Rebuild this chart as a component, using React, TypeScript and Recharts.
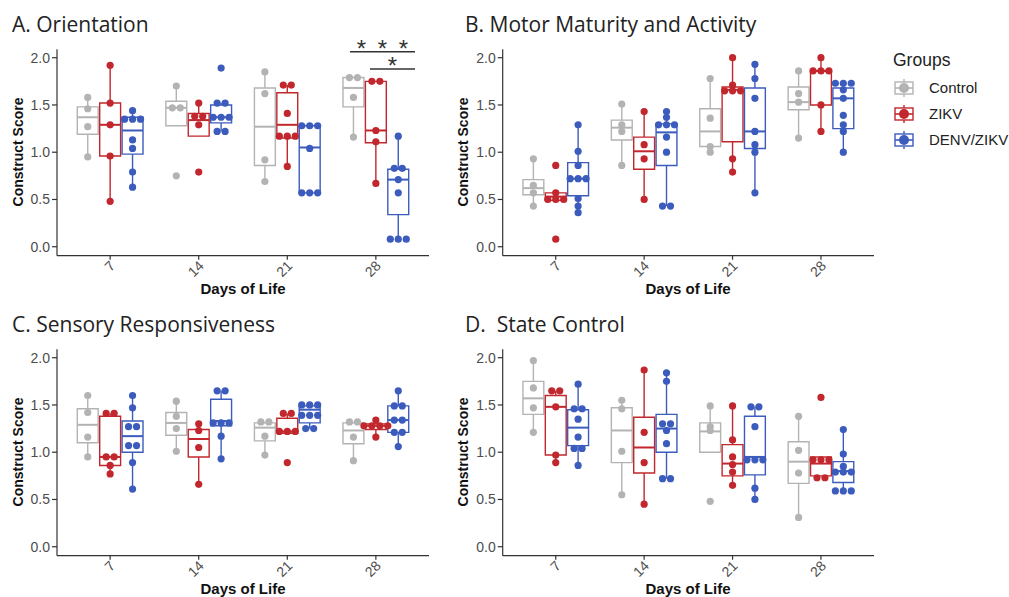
import React from 'react';
import { ComposedChart, XAxis, YAxis, Scatter, ReferenceArea, ReferenceLine } from 'recharts';

// x positions 1..4 map to these days
const days = ['7', '14', '21', '28'];
const groups = ['Control', 'ZIKV', 'DENV/ZIKV'];
const groupColors = ['#b3b3b3', '#c1272d', '#3c5cbd'];
const yTicks = [0, 0.5, 1, 1.5, 2];

// individual scores, one list per day (7, 14, 21, 28)
const orientControl = [[1.58, 1.46, 1.27, 0.95], [1.70, 1.47, 1.47, 0.75], [1.85, 1.62, 0.92, 0.69], [1.79, 1.79, 1.58, 1.16]];
const orientZikv = [[1.92, 1.52, 1.29, 0.96, 0.48], [1.52, 1.38, 1.38, 1.29, 0.79], [1.71, 1.71, 1.41, 1.17, 1.17, 1.17, 0.85], [1.75, 1.75, 1.23, 1.11, 0.67]];
const orientDenv = [[1.44, 1.35, 1.35, 1.35, 1.13, 1.04, 0.79, 0.63], [1.89, 1.52, 1.52, 1.37, 1.37, 1.37, 1.22, 1.22], [1.28, 1.28, 1.28, 1.04, 0.57, 0.57, 0.57], [1.17, 0.83, 0.83, 0.71, 0.57, 0.08, 0.08, 0.08]];

const motorControl = [[0.93, 0.65, 0.57, 0.43], [1.51, 1.29, 1.22, 0.86], [1.78, 1.36, 1.06, 1.00], [1.86, 1.62, 1.53, 1.15]];
const motorZikv = [[0.86, 0.57, 0.50, 0.50, 0.50, 0.08], [1.43, 1.08, 0.93, 0.50], [2.00, 1.71, 1.65, 1.65, 1.65, 0.93, 0.79], [2.00, 1.86, 1.86, 1.86, 1.50, 1.22]];
const motorDenv = [[1.29, 1.01, 0.86, 0.72, 0.72, 0.72, 0.51, 0.43, 0.36], [1.43, 1.37, 1.29, 1.29, 1.29, 1.16, 1.00, 0.43, 0.43], [1.93, 1.78, 1.57, 1.22, 1.08, 1.00, 0.57], [1.73, 1.73, 1.73, 1.66, 1.57, 1.39, 1.29, 1.22, 1.00]];

const sensoryControl = [[1.60, 1.42, 1.16, 0.95], [1.54, 1.38, 1.25, 1.01], [1.32, 1.32, 1.17, 0.97], [1.32, 1.32, 1.16, 0.91]];
const sensoryZikv = [[1.41, 1.41, 0.95, 0.95, 0.86, 0.77], [1.30, 1.23, 1.05, 0.66], [1.41, 1.41, 1.22, 1.22, 1.22, 0.89], [1.34, 1.28, 1.28, 1.28, 1.28, 1.16]];
const sensoryDenv = [[1.60, 1.47, 1.27, 1.27, 1.07, 1.07, 0.89, 0.61], [1.65, 1.65, 1.31, 1.31, 1.31, 1.17, 0.93], [1.50, 1.50, 1.50, 1.39, 1.39, 1.39, 1.25, 1.25], [1.65, 1.49, 1.49, 1.34, 1.34, 1.21, 1.21, 1.06]];

const stateControl = [[1.97, 1.68, 1.47, 1.21], [1.55, 1.46, 1.01, 0.55], [1.49, 1.27, 1.23, 0.48], [1.38, 1.02, 0.78, 0.31]];
const stateZikv = [[1.65, 1.65, 1.48, 0.97, 0.89], [1.87, 1.21, 0.89, 0.45], [1.49, 1.13, 0.95, 0.87, 0.79, 0.65], [1.58, 0.92, 0.92, 0.92, 0.73, 0.73]];
const stateDenv = [[1.72, 1.46, 1.46, 1.35, 1.16, 1.04, 1.04, 0.86], [1.84, 1.75, 1.30, 1.30, 1.23, 1.09, 0.72, 0.72], [1.48, 1.48, 1.27, 0.92, 0.92, 0.92, 0.62, 0.50], [1.24, 0.98, 0.85, 0.79, 0.79, 0.79, 0.59, 0.59, 0.59]];

// box stats per day: [lower whisker, q1, median, q3, upper whisker]
const orientControlBox = [[0.95, 1.19, 1.37, 1.48, 1.58], [1.28, 1.28, 1.47, 1.54, 1.70], [0.69, 0.86, 1.27, 1.68, 1.85], [1.16, 1.48, 1.68, 1.79, 1.79]];
const orientZikvBox = [[0.48, 0.96, 1.29, 1.52, 1.92], [1.17, 1.17, 1.34, 1.41, 1.52], [0.85, 1.15, 1.29, 1.63, 1.71], [0.67, 1.10, 1.23, 1.75, 1.75]];
const orientDenvBox = [[0.63, 0.98, 1.23, 1.37, 1.44], [1.22, 1.31, 1.37, 1.50, 1.52], [0.57, 0.57, 1.05, 1.28, 1.28], [0.08, 0.34, 0.71, 0.82, 1.17]];

const motorControlBox = [[0.43, 0.55, 0.62, 0.71, 0.93], [0.86, 1.13, 1.26, 1.34, 1.51], [1.00, 1.06, 1.22, 1.46, 1.78], [1.15, 1.45, 1.53, 1.69, 1.86]];
const motorZikvBox = [[0.49, 0.49, 0.53, 0.57, 0.57], [0.50, 0.82, 1.01, 1.16, 1.43], [0.79, 1.11, 1.66, 1.69, 2.00], [1.22, 1.50, 1.86, 1.86, 2.00]];
const motorDenvBox = [[0.36, 0.54, 0.72, 0.89, 1.29], [0.43, 0.86, 1.21, 1.30, 1.43], [0.57, 1.04, 1.22, 1.68, 1.93], [1.00, 1.25, 1.57, 1.68, 1.73]];

const sensoryControlBox = [[0.95, 1.10, 1.29, 1.46, 1.60], [1.01, 1.18, 1.31, 1.42, 1.54], [0.97, 1.12, 1.26, 1.31, 1.32], [0.91, 1.09, 1.23, 1.31, 1.32]];
const sensoryZikvBox = [[0.77, 0.86, 0.95, 1.38, 1.41], [0.66, 0.95, 1.14, 1.24, 1.30], [1.20, 1.20, 1.22, 1.36, 1.41], [1.16, 1.24, 1.28, 1.30, 1.34]];
const sensoryDenvBox = [[0.61, 1.00, 1.17, 1.33, 1.60], [0.93, 1.28, 1.33, 1.56, 1.65], [1.25, 1.31, 1.45, 1.49, 1.50], [1.06, 1.21, 1.34, 1.49, 1.65]];

const stateControlBox = [[1.21, 1.40, 1.57, 1.75, 1.97], [0.55, 0.89, 1.23, 1.47, 1.55], [1.00, 1.00, 1.22, 1.31, 1.49], [0.31, 0.67, 0.90, 1.11, 1.38]];
const stateZikvBox = [[0.89, 0.97, 1.48, 1.60, 1.65], [0.45, 0.78, 1.05, 1.37, 1.87], [0.65, 0.75, 0.88, 1.08, 1.49], [0.75, 0.75, 0.88, 0.95, 0.95]];
const stateDenvBox = [[0.86, 1.07, 1.26, 1.45, 1.72], [0.72, 1.00, 1.25, 1.40, 1.84], [0.50, 0.76, 0.95, 1.38, 1.48], [0.59, 0.68, 0.80, 0.90, 1.24]];

const FONT = '"Liberation Sans", Arial, Helvetica, sans-serif';
const DODGE = 0.253;
const HALF_BOX = 0.118;
const TIE_STEP = 0.09;

// spread tied values sideways like a beeswarm
function toPoints(perDay: number[][], g: number) {
    const out: { x: number; y: number }[] = [];
    perDay.forEach((vals, d) => {
        const center = d + 1 + (g - 1) * DODGE;
        const seen: Record<string, number> = {};
        vals.forEach(v => {
            const count = vals.filter(w => w === v).length;
            const i = seen[v] || 0;
            seen[v] = i + 1;
            out.push({ x: center + (i - (count - 1) / 2) * TIE_STEP, y: v });
        });
    });
    return out;
}

const DayTick = ({ x, y, payload }: any) => {
    const ax = x + 6;
    const ay = y + 5;
    return (
        <text x={ax} y={ay} transform={`rotate(-45, ${ax}, ${ay})`} textAnchor="end"
            fill="#4d4d4d" fontSize={14} fontFamily={FONT}>
            {days[payload.value - 1]}
        </text>
    );
};

const Stars = ({ viewBox, count }: any) => {
    const cx = viewBox.x + viewBox.width / 2;
    const offs = count === 3 ? [-21, 0, 21] : [0];
    return (
        <g>
            {offs.map((o, i) => (
                <text key={i} x={cx + o} y={viewBox.y + 5} textAnchor="middle" fontSize={24}
                    fill="#333" fontFamily={FONT}>*</text>
            ))}
        </g>
    );
};

interface PanelProps {
    points: number[][][];
    boxes: number[][][];
    left: number;
    top: number;
    marginLeft: number;
    showSig?: boolean;
}

function Panel({ points, boxes, left, top, marginLeft, showSig }: PanelProps) {
    const boxParts: React.ReactNode[] = [];
    boxes.forEach((perDay, g) => {
        const color = groupColors[g];
        perDay.forEach(([lo, q1, med, q3, hi], d) => {
            const c = d + 1 + (g - 1) * DODGE;
            const k = `${g}-${d}`;
            if (hi > q3) {
                boxParts.push(<ReferenceLine key={`hi${k}`} segment={[{ x: c, y: q3 }, { x: c, y: hi }]}
                    stroke={color} strokeWidth={1.4} />);
            }
            if (lo < q1) {
                boxParts.push(<ReferenceLine key={`lo${k}`} segment={[{ x: c, y: lo }, { x: c, y: q1 }]}
                    stroke={color} strokeWidth={1.4} />);
            }
            boxParts.push(<ReferenceArea key={`bx${k}`} x1={c - HALF_BOX} x2={c + HALF_BOX} y1={q1} y2={q3}
                fill="none" fillOpacity={0} stroke={color} strokeWidth={1.4} strokeOpacity={1} />);
            boxParts.push(<ReferenceLine key={`md${k}`} segment={[{ x: c - HALF_BOX, y: med }, { x: c + HALF_BOX, y: med }]}
                stroke={color} strokeWidth={2} />);
        });
    });

    return (
        <div style={{ position: 'absolute', left, top, fontFamily: FONT }}>
            <ComposedChart width={445} height={300}
                margin={{ top: 49.3, right: 16, left: marginLeft, bottom: 14.3 }}>
                <XAxis dataKey="x" type="number" domain={[0.4, 4.6]} ticks={[1, 2, 3, 4]}
                    allowDataOverflow height={30} tickSize={4} interval={0}
                    stroke="#333" strokeWidth={1.2} tick={<DayTick />} />
                <YAxis dataKey="y" type="number" domain={[-0.095, 2.089]} ticks={yTicks}
                    allowDataOverflow width={40} tickSize={5} interval={0}
                    stroke="#333" strokeWidth={1.2}
                    tick={{ fill: '#4d4d4d', fontSize: 14 }}
                    tickFormatter={(v: number) => v.toFixed(1)} />
                {boxParts}
                {showSig && (
                    <ReferenceLine segment={[{ x: 3.708, y: 2.063 }, { x: 4.442, y: 2.063 }]}
                        stroke="#333" strokeWidth={1.4} label={(p: any) => <Stars {...p} count={3} />} />
                )}
                {showSig && (
                    <ReferenceLine segment={[{ x: 3.934, y: 1.88 }, { x: 4.442, y: 1.88 }]}
                        stroke="#333" strokeWidth={1.4} label={(p: any) => <Stars {...p} count={1} />} />
                )}
                {points.map((perDay, g) => (
                    <Scatter key={groups[g]} name={groups[g]} data={toPoints(perDay, g)}
                        isAnimationActive={false}
                        shape={(p: any) => <circle cx={p.cx} cy={p.cy} r={3.6} fill={groupColors[g]} />} />
                ))}
            </ComposedChart>
        </div>
    );
}

const panelTitles = ['A. Orientation', 'B. Motor Maturity and Activity', 'C. Sensory Responsiveness', 'D.  State Control'];

export default function App() {
    const titleX = [12, 465, 12, 465];
    const titleY = [32, 32, 332, 332];
    const axisTitleX = [23, 468, 23, 468];
    const plotMidX = [243, 688, 243, 688];
    const plotMidY = [152, 152, 452, 452];
    const daysY = [294, 294, 594, 594];
    return (
        <div style={{ position: 'absolute', left: 0, top: 0, width: 1009, height: 597, background: '#fff', overflow: 'hidden' }}>
            <Panel points={[orientControl, orientZikv, orientDenv]}
                boxes={[orientControlBox, orientZikvBox, orientDenvBox]} left={0} top={0} marginLeft={17} showSig />
            <Panel points={[motorControl, motorZikv, motorDenv]}
                boxes={[motorControlBox, motorZikvBox, motorDenvBox]} left={445} top={0} marginLeft={17.7} />
            <Panel points={[sensoryControl, sensoryZikv, sensoryDenv]}
                boxes={[sensoryControlBox, sensoryZikvBox, sensoryDenvBox]} left={0} top={300} marginLeft={17} />
            <Panel points={[stateControl, stateZikv, stateDenv]}
                boxes={[stateControlBox, stateZikvBox, stateDenvBox]} left={445} top={300} marginLeft={17.7} />

            <svg width={1009} height={597} style={{ position: 'absolute', left: 0, top: 0, pointerEvents: 'none' }}>
                {panelTitles.map((t, i) => (
                    <text key={t} x={titleX[i]} y={titleY[i]} fontSize={21} fill="#222"
                        fontFamily='"Open Sans", Lato, sans-serif' style={{ whiteSpace: 'pre' }}>{t}</text>
                ))}
                {panelTitles.map((t, i) => (
                    <text key={`y${i}`} x={axisTitleX[i]} y={plotMidY[i]} fontSize={14} fontWeight="bold"
                        fill="#111" fontFamily={FONT} textAnchor="middle"
                        transform={`rotate(-90, ${axisTitleX[i]}, ${plotMidY[i]})`}>Construct Score</text>
                ))}
                {panelTitles.map((t, i) => (
                    <text key={`x${i}`} x={plotMidX[i]} y={daysY[i]} fontSize={15} fontWeight="bold"
                        fill="#111" fontFamily={FONT} textAnchor="middle">Days of Life</text>
                ))}

                <text x={893} y={66} fontSize={17.5} fill="#222" fontFamily={FONT}>Groups</text>
                {groups.map((g, i) => {
                    const cy = 88 + i * 26;
                    const color = groupColors[i];
                    return (
                        <g key={g}>
                            <line x1={904} x2={904} y1={cy - 9} y2={cy + 9} stroke={color} strokeWidth={1.4} />
                            <rect x={895} y={cy - 6} width={18} height={12} fill="#fff" stroke={color} strokeWidth={1.4} />
                            <line x1={895} x2={913} y1={cy} y2={cy} stroke={color} strokeWidth={1.6} />
                            <circle cx={904} cy={cy} r={5} fill={color} />
                            <text x={929} y={cy + 5} fontSize={15} fill="#222" fontFamily={FONT}>{g}</text>
                        </g>
                    );
                })}
            </svg>
        </div>
    );
}
